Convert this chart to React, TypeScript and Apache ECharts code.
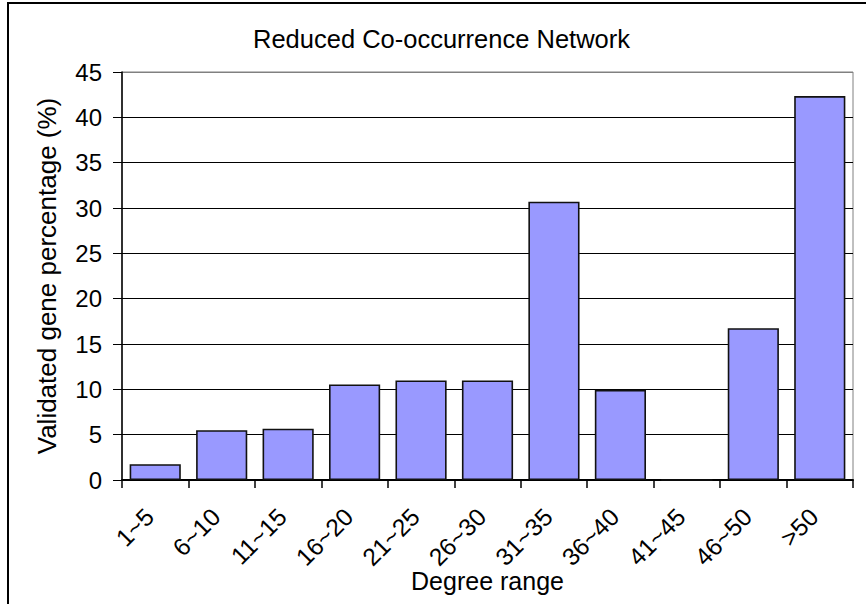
import React, { useEffect, useRef } from "react";
import * as echarts from "echarts";

const categories = ["1~5", "6~10", "11~15", "16~20", "21~25", "26~30", "31~35", "36~40", "41~45", "46~50", ">50"];
const values = [1.74, 5.5, 5.65, 10.54, 10.98, 10.98, 30.7, 9.95, 0, 16.75, 42.35];
const titleText = "Reduced Co-occurrence Network";
const yName = "Validated gene percentage (%)";
const xName = "Degree range";

const FONT = "'Liberation Sans', Arial, sans-serif";

export default function App() {
  const ref = useRef<HTMLDivElement>(null);
  useEffect(() => {
    if (!ref.current) return;
    const chart = echarts.init(ref.current, null, { renderer: "svg" });
    const splitColors = ["#000", "#000", "#000", "#000", "#000", "#000", "#000", "#000", "#000", "#808080"];
    chart.setOption({
      animation: false,
      backgroundColor: "#fff",
      textStyle: { fontFamily: FONT },
      graphic: [
        {
          type: "rect",
          shape: { x: 8, y: 3, width: 1000, height: 800 },
          style: { fill: "none", stroke: "#000", lineWidth: 2 },
          silent: true,
        },
        {
          type: "text",
          x: 441.5,
          y: 39,
          style: {
            text: titleText,
            fontSize: 25.5,
            fontFamily: FONT,
            fill: "#000",
            align: "center",
            verticalAlign: "middle",
          },
        },
      ],
      grid: {
        left: 122,
        right: 13,
        top: 72,
        bottom: 124,
        show: true,
        borderColor: "#808080",
        borderWidth: 1,
        backgroundColor: "#fff",
      },
      xAxis: {
        type: "category",
        data: categories,
        name: xName,
        nameLocation: "middle",
        nameGap: 88,
        nameMoveOverlap: false,
        nameTextStyle: { fontSize: 25, color: "#000", fontFamily: FONT },
        axisLine: { lineStyle: { color: "#000", width: 2 } },
        axisTick: { show: true, length: 8, lineStyle: { color: "#000", width: 1.5 } },
        axisLabel: {
          rotate: 45,
          fontSize: 24.5,
          color: "#000",
          margin: 27,
          padding: [0, 8, 0, 0],
          interval: 0,
          fontFamily: FONT,
        },
      },
      yAxis: {
        type: "value",
        min: 0,
        max: 45,
        interval: 5,
        name: yName,
        nameLocation: "middle",
        nameRotate: 90,
        nameGap: 62,
        nameMoveOverlap: false,
        nameTextStyle: { fontSize: 26, color: "#000", fontFamily: FONT },
        axisLine: { show: true, lineStyle: { color: "#000", width: 1.5 } },
        axisTick: { show: true, length: 9, lineStyle: { color: "#000", width: 1 } },
        axisLabel: { fontSize: 24, color: "#000", margin: 20, fontFamily: FONT },
        splitLine: { show: true, lineStyle: { color: splitColors, width: 1.2 } },
      },
      series: [
        {
          type: "bar",
          data: values,
          barCategoryGap: "23%",
          itemStyle: { color: "#9999FF", borderColor: "#111", borderWidth: 1.6 },
        },
      ],
    });
    return () => chart.dispose();
  }, []);
  return (
    <div
      ref={ref}
      style={{ position: "fixed", left: 0, top: 0, width: 866, height: 604 }}
    />
  );
}
